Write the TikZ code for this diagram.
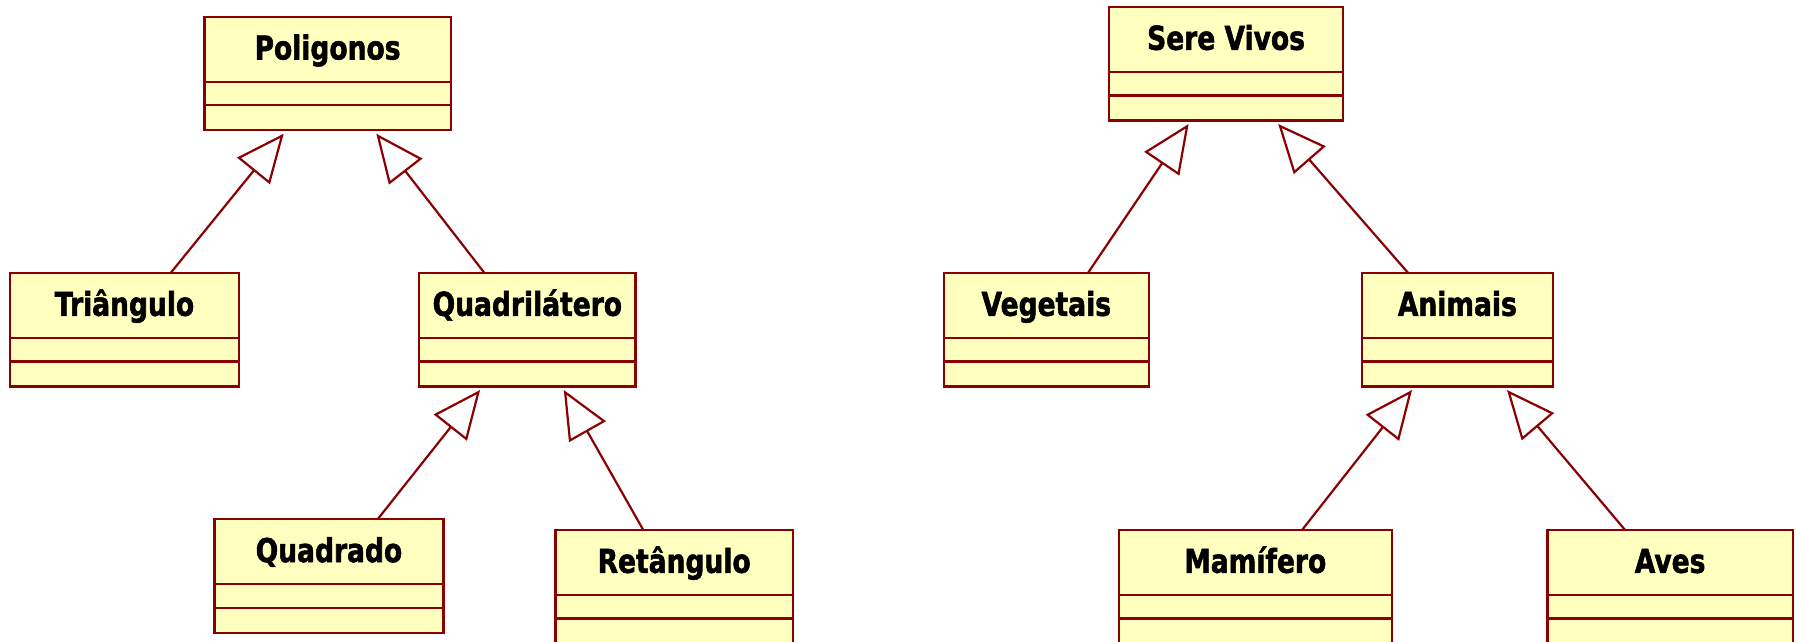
\documentclass[tikz,border=0pt]{standalone}
\usepackage{fontspec}
\usetikzlibrary{arrows.meta}
\newfontfamily\umlfont{DejaVu Sans}[FakeStretch=0.806, BoldFeatures={FakeBold=1.6}]
\definecolor{umlred}{RGB}{139,0,0}
\definecolor{umlfill}{RGB}{255,255,192}
\tikzset{
  clsbox/.style={draw=umlred, fill=umlfill, line width=2.2pt, rectangle, inner sep=0pt, outer sep=0pt, minimum height=113.5pt},
  clsline/.style={draw=umlred, line width=2.2pt},
  clstext/.style={font=\umlfont\bfseries\fontsize{32.9}{40}\selectfont, text=black, inner sep=0pt},
  gen/.style={draw=umlred, line width=2.2pt, -{Triangle[length=48pt, width=42pt, fill=white]}}
}
\newcommand{\umlcls}[5]{%
  \node[clsbox, minimum width=#4pt, anchor=north west] (#1) at (#2,#3) {};
  \draw[clsline] ([yshift=-65pt]#1.north west) -- ([yshift=-65pt, xshift=1.5pt]#1.north east);
  \draw[clsline] ([yshift=-88.5pt]#1.north west) -- ([yshift=-88.5pt, xshift=1.5pt]#1.north east);
  \node[clstext, anchor=base] (#1-t) at ([yshift=-42.8pt]#1.north) {#5};
}
\begin{document}
\begin{tikzpicture}[x=1pt, y=-1pt]
\useasboundingbox (0,0) rectangle (1796,641);
\umlcls{pol}{204.5}{16.7}{246.1}{Poligonos}
\umlcls{tri}{10.2}{273}{228.6}{Triângulo}
\umlcls{quad}{419.2}{273}{216.3}{Quadrilátero}
\umlcls{qdo}{214.4}{519.3}{229.1}{Quadrado}
\umlcls{ret}{555.4}{530}{237.5}{Retângulo}
\umlcls{sv}{1109.3}{7}{233.5}{Sere Vivos}
\umlcls{veg}{943.9}{273}{204.7}{Vegetais}
\umlcls{ani}{1362}{273}{190.7}{Animais}
\umlcls{mam}{1119.1}{530}{272.5}{Mamífero}
\umlcls{aves}{1547.4}{530}{245.4}{Aves}
% generalizations
\draw[gen] ([xshift=160.4pt]tri.north west) -- ([xshift=79.2pt, yshift=-3.5pt]pol.south west);
\draw[gen] ([xshift=65.3pt]quad.north west) -- ([xshift=171.8pt, yshift=-3.5pt]pol.south west);
\draw[gen] ([xshift=163.2pt]qdo.north west) -- ([xshift=60.9pt, yshift=-3.5pt]quad.south west);
\draw[gen] ([xshift=87.9pt]ret.north west) -- ([xshift=144.6pt, yshift=-3.5pt]quad.south west);
\draw[gen] ([xshift=144pt]veg.north west) -- ([xshift=79.3pt, yshift=-3.5pt]sv.south west);
\draw[gen] ([xshift=46.2pt]ani.north west) -- ([xshift=168.9pt, yshift=-3.5pt]sv.south west);
\draw[gen] ([xshift=182.9pt]mam.north west) -- ([xshift=50pt, yshift=-3.5pt]ani.south west);
\draw[gen] ([xshift=77.7pt]aves.north west) -- ([xshift=145pt, yshift=-3.5pt]ani.south west);
\end{tikzpicture}
\end{document}
